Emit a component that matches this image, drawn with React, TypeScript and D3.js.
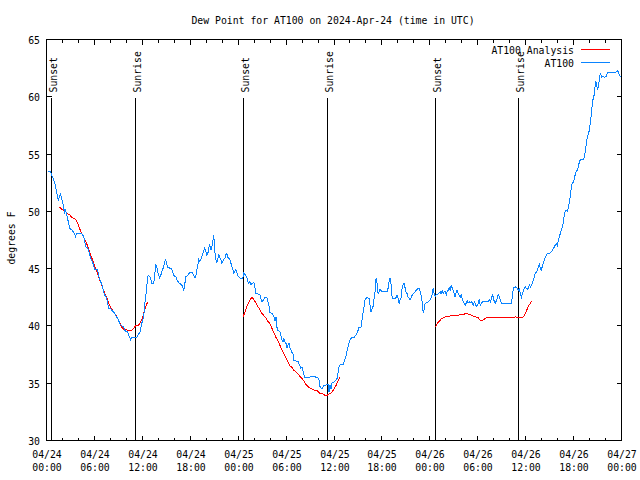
// @ts-nocheck
import React from 'react';
import * as d3 from 'd3';

const title = 'Dew Point for AT100 on 2024-Apr-24 (time in UTC)';
const yLabel = 'degrees F';
const startUtc = Date.UTC(2024, 3, 24, 0, 0);
const endUtc = Date.UTC(2024, 3, 27, 0, 0);
const yTicks = [30, 35, 40, 45, 50, 55, 60, 65];

// sun events, hours after 04/24 00:00 UTC
const sunLabels = ['Sunset', 'Sunrise', 'Sunset', 'Sunrise', 'Sunset', 'Sunrise'];
const sunHours = [0.62, 11.12, 24.7, 35.2, 48.68, 59.08];

const legendNames = ['AT100 Analysis', 'AT100'];

// AT100 observations
const stationHours = [
    0.13, 0.50, 0.63, 0.88, 1.13, 1.38, 1.51, 1.63, 1.76, 1.88,
    2.01, 2.13, 2.26, 2.38, 2.51, 2.63, 2.76, 2.89, 3.14, 3.39,
    3.64, 3.76, 4.14, 4.39, 4.64, 4.77, 4.89, 5.14, 5.39, 5.52,
    5.64, 5.90, 6.02, 6.40, 6.52, 6.77, 7.02, 7.15, 7.28, 7.40,
    7.65, 7.78, 8.03, 8.28, 8.53, 8.78, 9.03, 9.16, 9.41, 9.66,
    9.78, 10.04, 10.16, 10.41, 10.54, 10.66, 11.29, 11.54, 11.67, 11.92,
    12.17, 12.29, 12.42, 12.54, 12.67, 12.80, 13.05, 13.17, 13.42, 13.55,
    13.67, 13.80, 13.92, 14.05, 14.17, 14.30, 14.43, 14.68, 14.80, 14.93,
    15.18, 15.68, 15.93, 16.18, 16.43, 16.68, 16.93, 17.19, 17.31, 17.44,
    17.69, 17.94, 18.19, 18.44, 18.57, 18.69, 18.94, 19.07, 19.19, 19.44,
    19.69, 19.82, 19.94, 20.07, 20.20, 20.32, 20.45, 20.57, 20.70, 20.82,
    20.95, 21.07, 21.20, 21.32, 21.45, 21.58, 21.70, 21.83, 21.95, 22.20,
    22.33, 22.45, 22.58, 22.71, 22.96, 23.08, 23.21, 23.33, 23.46, 23.71,
    23.83, 23.96, 24.21, 24.46, 24.59, 24.71, 24.96, 25.09, 25.21, 25.34,
    25.46, 25.59, 25.72, 25.97, 26.09, 26.22, 26.47, 26.72, 26.97, 27.22,
    27.35, 27.60, 27.72, 27.85, 27.97, 28.22, 28.47, 28.60, 28.73, 28.85,
    28.98, 29.23, 29.35, 29.48, 29.60, 29.73, 29.86, 29.98, 30.11, 30.23,
    30.36, 30.48, 30.61, 30.73, 30.86, 30.98, 31.49, 31.74, 31.86, 31.99,
    32.11, 32.24, 32.36, 32.74, 33.24, 33.99, 34.12, 34.25, 34.50, 34.75,
    35.25, 35.37, 35.50, 35.62, 35.75, 36.00, 36.25, 36.38, 36.63, 36.75,
    37.13, 37.26, 37.51, 37.76, 38.01, 38.26, 38.51, 38.76, 39.01, 39.14,
    39.39, 39.51, 39.64, 39.76, 39.89, 40.14, 40.39, 40.52, 40.64, 40.77,
    40.89, 41.02, 41.14, 41.27, 41.40, 41.52, 41.65, 41.77, 42.02, 42.40,
    42.65, 42.78, 42.90, 43.03, 43.15, 43.28, 43.40, 43.65, 43.78, 43.90,
    44.03, 44.16, 44.28, 44.41, 44.53, 44.66, 44.78, 44.91, 45.03, 45.16,
    45.29, 45.54, 45.79, 46.04, 46.29, 46.54, 46.66, 46.79, 46.91, 47.04,
    47.17, 47.29, 47.42, 47.54, 47.79, 48.04, 48.17, 48.30, 48.42, 48.55,
    48.67, 48.80, 49.05, 49.30, 49.42, 49.55, 49.68, 49.80, 49.93, 50.05,
    50.18, 50.30, 50.43, 50.55, 50.68, 50.80, 50.93, 51.06, 51.18, 51.31,
    51.43, 51.56, 51.68, 51.81, 51.93, 52.06, 52.19, 52.31, 52.44, 52.56,
    52.69, 52.81, 52.94, 53.06, 53.19, 53.32, 53.44, 53.57, 53.69, 53.82,
    53.94, 54.07, 54.19, 54.32, 54.57, 54.82, 55.07, 55.32, 55.45, 55.57,
    55.70, 55.82, 55.95, 56.07, 56.20, 56.45, 56.58, 56.70, 56.83, 56.95,
    57.33, 57.83, 58.20, 58.33, 58.46, 58.71, 58.96, 59.08, 59.21, 59.33,
    59.46, 59.58, 59.71, 59.83, 59.96, 60.09, 60.21, 60.34, 60.46, 60.59,
    60.71, 60.84, 60.96, 61.09, 61.21, 61.34, 61.47, 61.59, 61.72, 61.84,
    61.97, 62.09, 62.22, 62.34, 62.47, 62.60, 62.72, 62.85, 63.10, 63.35,
    63.47, 63.60, 63.72, 63.85, 63.98, 64.10, 64.23, 64.35, 64.48, 64.60,
    64.73, 64.85, 64.98, 65.11, 65.23, 65.36, 65.48, 65.61, 65.73, 65.86,
    65.98, 66.11, 66.23, 66.36, 66.48, 66.61, 66.74, 66.86, 67.24, 67.36,
    67.49, 67.61, 67.74, 67.86, 67.99, 68.12, 68.24, 68.37, 68.49, 68.62,
    68.74, 68.87, 68.99, 69.12, 69.24, 69.37, 69.50, 69.62, 69.87, 70.12,
    70.25, 71.25, 71.50, 71.63, 71.75, 71.88
];
const stationValues = [
    53.5, 53.5, 53.2, 52.8, 52.2, 51.3, 50.9, 51.4, 51.5, 51.1,
    50.8, 50.4, 49.9, 50.1, 49.8, 49.4, 49.0, 48.5, 48.4, 48.2,
    47.8, 48.1, 48.1, 48.1, 47.8, 47.5, 46.9, 46.8, 46.3, 45.9,
    45.8, 45.3, 44.9, 44.9, 44.4, 43.9, 43.4, 43.0, 42.7, 42.6,
    42.1, 41.5, 41.5, 41.3, 41.1, 40.8, 40.5, 40.2, 40.0, 39.9,
    39.6, 39.5, 39.5, 39.0, 38.8, 39.0, 39.0, 39.3, 39.3, 40.2,
    40.8, 41.8, 42.5, 43.3, 44.3, 44.4, 44.2, 43.7, 43.7, 44.4,
    45.3, 45.2, 44.7, 44.4, 44.2, 44.4, 44.7, 45.2, 45.6, 45.8,
    45.1, 45.0, 44.4, 44.3, 43.9, 43.7, 43.6, 43.1, 43.6, 44.3,
    44.4, 44.7, 44.7, 44.4, 44.2, 44.3, 45.3, 45.8, 45.6, 46.0,
    46.6, 46.8, 46.5, 46.2, 46.3, 46.8, 47.1, 46.6, 46.9, 47.4,
    47.9, 46.5, 45.8, 45.5, 45.9, 46.2, 46.0, 45.8, 45.5, 45.8,
    45.9, 46.2, 46.3, 46.0, 45.8, 45.5, 45.2, 44.9, 44.6, 44.9,
    44.7, 44.4, 44.2, 44.1, 44.2, 44.6, 44.4, 44.2, 43.9, 43.7,
    43.9, 43.6, 43.7, 43.8, 43.4, 42.8, 42.8, 42.7, 42.1, 42.3,
    42.5, 42.5, 42.1, 41.8, 41.2, 41.1, 40.8, 40.4, 40.8, 39.9,
    39.6, 39.5, 39.2, 38.8, 38.6, 38.9, 38.6, 38.5, 38.1, 38.3,
    38.5, 38.1, 37.9, 37.7, 37.6, 37.0, 36.9, 36.5, 36.3, 36.4,
    36.1, 35.7, 35.5, 35.5, 35.6, 35.5, 35.3, 34.7, 34.5, 34.8,
    34.9, 34.2, 34.8, 34.5, 35.0, 35.1, 35.3, 35.4, 36.4, 36.6,
    36.6, 36.9, 37.4, 38.2, 38.8, 39.0, 39.0, 39.2, 39.6, 39.9,
    39.9, 40.5, 41.2, 41.7, 42.3, 42.5, 42.4, 41.8, 41.2, 41.5,
    41.7, 42.4, 43.0, 44.2, 43.7, 42.8, 43.0, 43.2, 43.0, 43.0,
    43.0, 43.3, 43.9, 44.2, 43.6, 42.5, 42.4, 42.4, 42.5, 42.7,
    42.4, 41.9, 42.3, 42.5, 43.3, 43.6, 43.7, 43.3, 42.9, 42.8,
    42.5, 42.3, 42.7, 42.9, 43.1, 43.3, 43.3, 43.0, 42.7, 42.1,
    41.1, 41.4, 42.0, 42.0, 42.1, 42.3, 42.5, 42.8, 43.3, 42.8,
    42.6, 42.7, 42.8, 43.0, 42.8, 43.1, 42.8, 43.0, 43.0, 42.7,
    43.0, 43.1, 43.3, 43.1, 43.6, 43.3, 43.1, 42.8, 42.5, 43.0,
    43.1, 42.8, 42.7, 42.5, 42.7, 42.4, 42.1, 42.0, 41.8, 42.0,
    42.2, 42.0, 42.1, 42.0, 42.1, 42.0, 41.8, 42.1, 42.0, 41.7,
    41.8, 42.0, 42.3, 41.8, 42.1, 42.1, 42.1, 42.1, 42.3, 42.1,
    42.3, 42.7, 42.5, 42.1, 42.0, 42.4, 42.8, 42.5, 42.3, 42.0,
    42.0, 42.0, 42.0, 42.5, 43.3, 43.4, 43.3, 43.1, 43.2, 42.8,
    42.5, 42.8, 43.0, 43.3, 43.4, 43.3, 43.2, 43.3, 43.6, 43.4,
    43.5, 43.7, 44.0, 44.3, 44.6, 44.7, 44.9, 45.2, 45.4, 45.0,
    44.9, 45.2, 45.5, 45.8, 46.0, 46.2, 46.3, 46.3, 46.4, 46.6,
    46.8, 46.9, 47.1, 47.2, 47.0, 47.5, 47.8, 48.1, 48.4, 48.7,
    49.1, 49.8, 50.1, 50.1, 50.0, 50.4, 50.9, 51.4, 52.2, 52.5,
    52.5, 52.9, 53.3, 53.5, 53.6, 53.9, 54.4, 54.5, 54.5, 54.8,
    55.4, 56.0, 56.5, 56.8, 57.1, 57.9, 58.6, 59.5, 60.0, 60.2,
    61.4, 61.1, 60.6, 60.9, 61.6, 62.1, 61.7, 61.8, 61.7, 61.8,
    62.1, 62.1, 62.3, 62.1, 61.9, 61.7
];

// AT100 Analysis, three overnight runs
const analysisAHours = [
    1.63, 1.88, 2.13, 2.38, 2.63, 2.89, 3.14, 3.39, 3.64, 3.89,
    4.14, 4.39, 4.64, 4.89, 5.14, 5.39, 5.64, 5.90, 6.15, 6.40,
    6.65, 6.90, 7.15, 7.40, 7.65, 7.90, 8.15, 8.40, 8.66, 8.91,
    9.16, 9.41, 9.66, 9.91, 10.16, 10.41, 10.66, 10.91, 11.16, 11.42,
    11.67, 11.92, 12.17, 12.42, 12.67
];
const analysisAValues = [
    50.4, 50.2, 50.1, 50.0, 49.8, 49.7, 49.5, 49.4, 49.3, 49.0,
    48.5, 48.1, 47.8, 47.4, 47.0, 46.5, 46.0, 45.5, 45.0, 44.6,
    44.0, 43.6, 43.1, 42.7, 42.3, 41.8, 41.5, 41.2, 41.0, 40.7,
    40.3, 39.9, 39.7, 39.7, 39.6, 39.6, 39.6, 39.8, 40.0, 40.0,
    40.2, 40.5, 41.1, 41.7, 42.1
];
const analysisBHours = [
    24.62, 24.84, 25.09, 25.34, 25.72, 25.97, 26.22, 26.47, 26.72, 26.97,
    27.22, 27.47, 27.72, 27.97, 28.22, 28.47, 28.73, 28.98, 29.23, 29.48,
    29.73, 29.98, 30.23, 30.48, 30.73, 30.98, 31.24, 31.49, 31.74, 31.99,
    32.24, 32.49, 32.74, 32.99, 33.24, 33.49, 33.74, 33.99, 34.25, 34.50,
    34.75, 35.00, 35.25, 35.50, 35.75, 36.00, 36.25, 36.50, 36.75
];
const analysisBValues = [
    40.8, 41.2, 41.7, 42.1, 42.5, 42.3, 42.0, 41.7, 41.4, 41.1,
    40.9, 40.7, 40.4, 40.2, 39.8, 39.4, 39.0, 38.7, 38.3, 37.9,
    37.6, 37.2, 36.9, 36.5, 36.4, 36.1, 36.0, 35.8, 35.6, 35.4,
    35.2, 34.9, 34.7, 34.6, 34.5, 34.4, 34.4, 34.3, 34.1, 34.1,
    34.0, 33.9, 34.0, 34.1, 34.2, 34.5, 34.8, 35.2, 35.5
];
const analysisCHours = [
    48.67, 48.92, 49.17, 49.42, 49.68, 49.93, 50.30, 50.68, 51.06, 51.43,
    51.81, 52.19, 52.56, 52.94, 53.32, 53.69, 54.07, 54.32, 54.57, 54.82,
    55.07, 55.45, 55.82, 56.32, 56.83, 57.33, 57.83, 58.33, 58.71, 59.08,
    59.33, 59.58, 59.83, 60.09, 60.34, 60.59, 60.84
];
const analysisCValues = [
    39.9, 40.2, 40.4, 40.6, 40.7, 40.8, 40.8, 40.9, 40.9, 40.9,
    41.0, 41.0, 41.1, 41.0, 40.9, 40.8, 40.7, 40.5, 40.5, 40.6,
    40.7, 40.7, 40.7, 40.7, 40.7, 40.7, 40.7, 40.7, 40.8, 40.7,
    40.7, 40.7, 40.9, 41.3, 41.7, 42.0, 42.2
];

const RED = '#ff0000';
const BLUE = '#0a84ff';
const FONT = "'DejaVu Sans Mono', 'Liberation Mono', monospace";

const toDate = (h) => new Date(startUtc + h * 3600 * 1000);
const zip = (hs, vs) => hs.map((h, i) => ({ date: toDate(h), value: vs[i] }));
const px = (v) => Math.floor(v) + 0.5;

export default function App() {
    const w = 640;
    const h = 480;
    const plot = { left: 46.5, right: 621.5, top: 39.5, bottom: 440.5 };

    const scale_x = d3.scaleUtc()
        .domain([new Date(startUtc), new Date(endUtc)])
        .range([plot.left, plot.right]);
    const scale_y = d3.scaleLinear()
        .domain([30, 65])
        .range([plot.bottom, plot.top]);

    const line = d3.line()
        .x((d) => scale_x(d.date))
        .y((d) => scale_y(d.value));

    const station = zip(stationHours, stationValues);
    const analysis = [
        zip(analysisAHours, analysisAValues),
        zip(analysisBHours, analysisBValues),
        zip(analysisCHours, analysisCValues)
    ];

    const majors = scale_x.ticks(d3.utcHour.every(6));
    const minors = scale_x.ticks(d3.utcHour.every(2))
        .filter((d) => d.getUTCHours() % 6 !== 0);
    const fmtDay = d3.utcFormat('%m/%d');
    const fmtTime = d3.utcFormat('%H:%M');

    const txt = { fontFamily: FONT, fontSize: 9.8, fill: '#000' };

    return (
        <svg width={w} height={h} style={{ position: 'absolute', left: 0, top: 0, background: '#fff' }}
            shapeRendering="crispEdges">
            <text x={333} y={24} textAnchor="middle" {...txt}>{title}</text>

            {/* y axis ticks, left and right */}
            {yTicks.map((t) => {
                const yy = px(scale_y(t));
                return (
                    <g key={'y' + t}>
                        <line x1={plot.left} x2={plot.left + 5} y1={yy} y2={yy} stroke="#000" />
                        <line x1={plot.right - 5} x2={plot.right} y1={yy} y2={yy} stroke="#000" />
                        <text x={40} y={yy + 4} textAnchor="end" {...txt}>{t}</text>
                    </g>
                );
            })}

            {/* x axis ticks, bottom and top */}
            {minors.map((d) => {
                const xx = px(scale_x(d));
                return (
                    <g key={'m' + d.getTime()}>
                        <line x1={xx} x2={xx} y1={plot.bottom} y2={plot.bottom - 3} stroke="#000" />
                        <line x1={xx} x2={xx} y1={plot.top} y2={plot.top + 3} stroke="#000" />
                    </g>
                );
            })}
            {majors.map((d) => {
                const xx = px(scale_x(d));
                return (
                    <g key={'M' + d.getTime()}>
                        <line x1={xx} x2={xx} y1={plot.bottom} y2={plot.bottom - 5} stroke="#000" />
                        <line x1={xx} x2={xx} y1={plot.top} y2={plot.top + 5} stroke="#000" />
                        <text x={xx + 0.5} y={457.5} textAnchor="middle" {...txt}>{fmtDay(d)}</text>
                        <text x={xx + 0.5} y={471} textAnchor="middle" {...txt}>{fmtTime(d)}</text>
                    </g>
                );
            })}

            <text transform="translate(15, 238) rotate(-90)" textAnchor="middle" {...txt}>{yLabel}</text>

            {/* sunrise / sunset markers */}
            {sunHours.map((hr, i) => {
                const xx = px(scale_x(toDate(hr)));
                return (
                    <g key={'s' + i}>
                        <line x1={xx} x2={xx} y1={98} y2={plot.bottom} stroke="#000" />
                        <text transform={`translate(${xx + 5.5}, 92.5) rotate(-90)`} {...txt}>{sunLabels[i]}</text>
                    </g>
                );
            })}

            {analysis.map((seg, i) => (
                <path key={'a' + i} d={line(seg)} fill="none" stroke={RED} strokeWidth={1} />
            ))}
            <path d={line(station)} fill="none" stroke={BLUE} strokeWidth={1} />

            {/* legend */}
            <text x={574} y={53.5} textAnchor="end" {...txt}>{legendNames[0]}</text>
            <line x1={581} x2={610} y1={49.5} y2={49.5} stroke={RED} />
            <text x={574} y={66.5} textAnchor="end" {...txt}>{legendNames[1]}</text>
            <line x1={581} x2={610} y1={62.5} y2={62.5} stroke={BLUE} />

            <rect x={plot.left} y={plot.top} width={plot.right - plot.left} height={plot.bottom - plot.top}
                fill="none" stroke="#000" />
        </svg>
    );
}
